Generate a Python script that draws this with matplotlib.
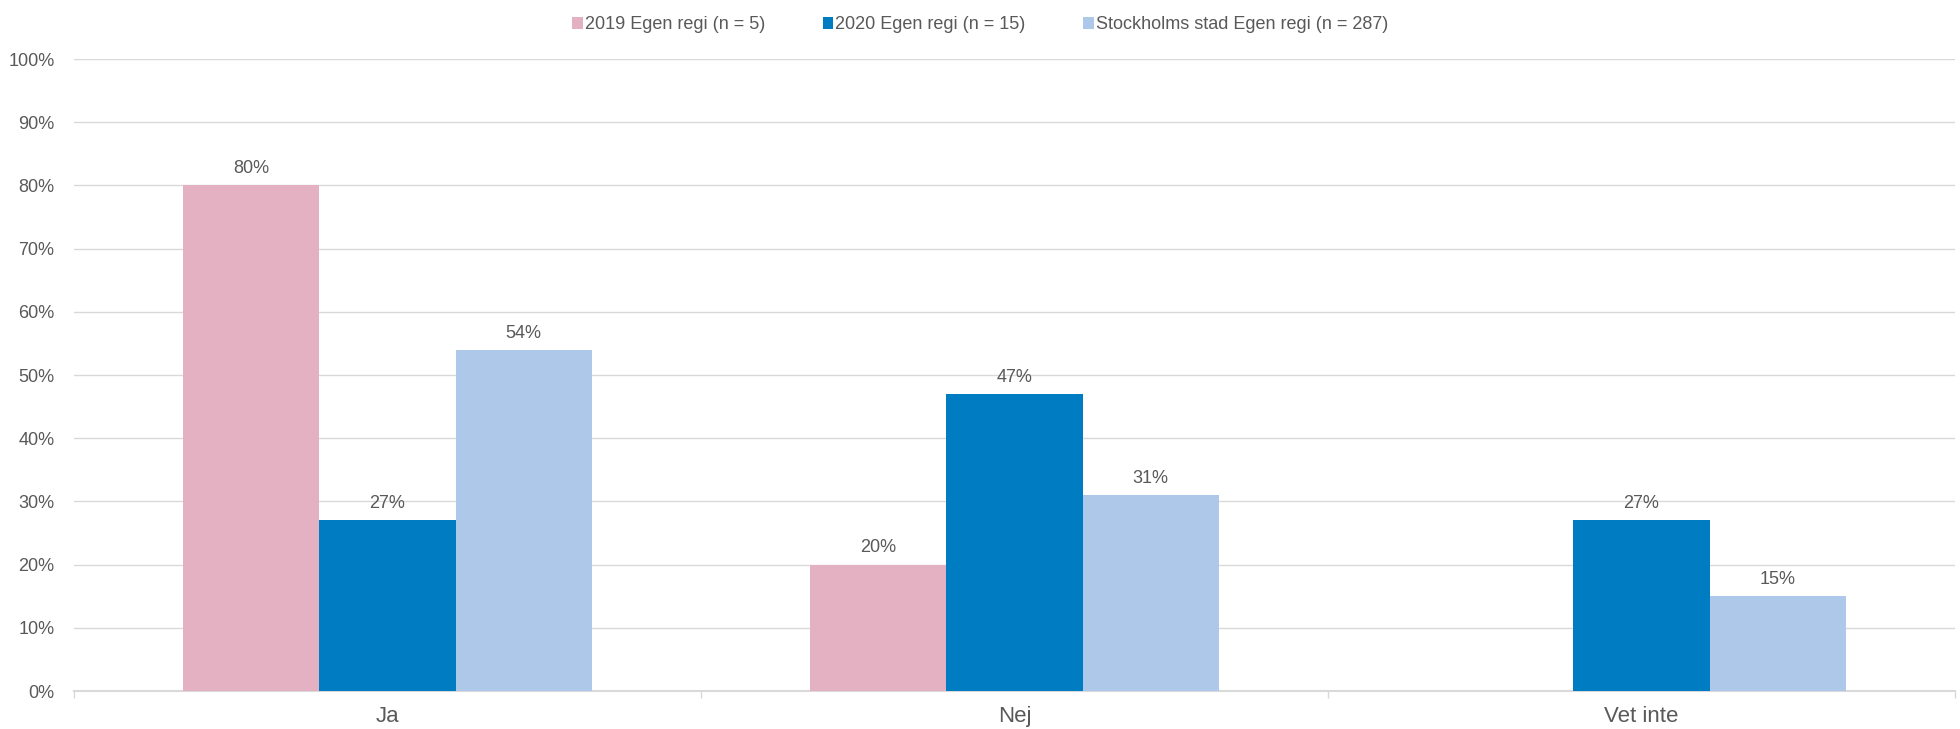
import numpy as np
import matplotlib
matplotlib.use('Agg')
import matplotlib.pyplot as plt
from matplotlib.ticker import PercentFormatter

plt.rcParams['font.family'] = ['Liberation Sans', 'DejaVu Sans']

# data
categories = ['Ja', 'Nej', 'Vet inte']
series_names = ['2019 Egen regi (n = 5)', '2020 Egen regi (n = 15)', 'Stockholms stad Egen regi (n = 287)']
v2019 = [80, 20, np.nan]
v2020 = [27, 47, 27]
vsthlm = [54, 31, 15]
colors = ['#E3B1C1', '#007CC2', '#AEC8EA']

text_col = '#595959'
grid_col = '#D9D9D9'

fig = plt.figure(figsize=(19.6, 7.29), dpi=100)
ax = fig.add_axes([74/1960, 1 - 691/729, (1955-74)/1960, (691-59)/729])

x = np.arange(len(categories))
w = 0.217
for i, (vals, c, name) in enumerate(zip([v2019, v2020, vsthlm], colors, series_names)):
    pos = x + (i - 1) * w
    ax.bar(pos, vals, width=w, color=c, label=name, zorder=3)
    for xp, v in zip(pos, vals):
        if not np.isnan(v):
            ax.text(xp, v + 1.3, f'{v:.0f}%', ha='center', va='bottom',
                    fontsize=13, color=text_col)

ax.set_xlim(-0.5, 2.5)
ax.set_ylim(0, 100)
ax.set_yticks(np.arange(0, 101, 10))
ax.yaxis.set_major_formatter(PercentFormatter(decimals=0))
ax.grid(axis='y', color=grid_col, linewidth=1, zorder=0)
ax.set_xticks(x)
ax.set_xticklabels(categories, fontsize=16, color=text_col)
ax.tick_params(axis='x', length=0, pad=11)
ax.tick_params(axis='y', length=0, labelsize=13, labelcolor=text_col, pad=14)
# category separators
ax.set_xticks([-0.5, 0.5, 1.5, 2.5], minor=True)
ax.tick_params(axis='x', which='minor', length=5, color=grid_col, width=1)

for s in ['top', 'right', 'left']:
    ax.spines[s].set_visible(False)
ax.spines['bottom'].set_color(grid_col)
ax.spines['bottom'].set_linewidth(1.5)

fig.legend(loc='upper center', bbox_to_anchor=(0.5, 1.0), ncol=3, frameon=False,
           fontsize=13, handlelength=0.6, handleheight=0.6, handletextpad=0.1,
           columnspacing=3.2, labelcolor=text_col)

fig.savefig('out.png', dpi=100)
